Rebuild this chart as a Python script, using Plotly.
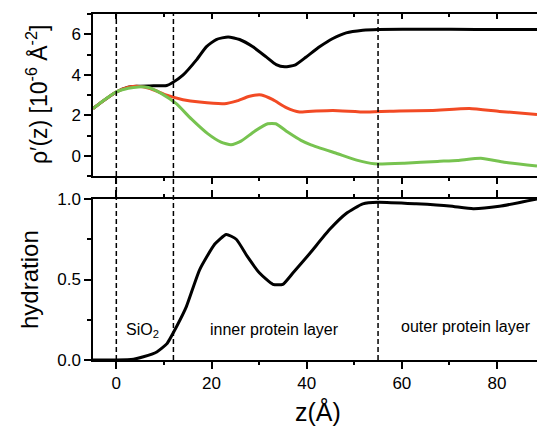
import plotly.graph_objects as go

# ---- data ----
z_black = [-4.9, -3.4, 0, 2.5, 4.3, 7.0, 10.6, 11.6, 14.0, 16.8, 18.9, 21.0, 23.5, 25.9, 28.7, 31.5, 33.6, 35.4, 37.5, 39.9, 42.7, 45.5, 48.3, 51.8, 55.0, 65.0, 75.6, 88.4]
rho_black = [2.33, 2.6, 3.15, 3.38, 3.43, 3.45, 3.47, 3.58, 3.98, 4.72, 5.38, 5.74, 5.87, 5.74, 5.38, 4.88, 4.5, 4.39, 4.47, 4.88, 5.38, 5.79, 6.07, 6.2, 6.24, 6.25, 6.24, 6.24]

z_red = [-4.9, -3.4, 0, 2.5, 4.3, 7.1, 10.6, 14.0, 17.5, 22.7, 25.2, 28.0, 30.5, 32.9, 35.7, 38.5, 42.0, 45.5, 52.5, 59.5, 66.5, 74.2, 80.5, 88.4]
rho_red = [2.33, 2.6, 3.15, 3.38, 3.43, 3.32, 2.99, 2.77, 2.65, 2.57, 2.7, 2.94, 3.0, 2.77, 2.38, 2.16, 2.21, 2.24, 2.16, 2.21, 2.24, 2.33, 2.19, 2.04]

z_green = [-4.9, -3.4, 0, 2.5, 4.6, 6.7, 9.5, 12.6, 15.7, 19.2, 22.0, 24.1, 26.2, 29.0, 31.8, 33.5, 36.0, 38.8, 40.9, 46.5, 50.7, 54.2, 60.5, 67.5, 71.7, 76.6, 81.5, 88.4]
rho_green = [2.33, 2.6, 3.15, 3.33, 3.4, 3.37, 3.07, 2.57, 1.83, 1.09, 0.67, 0.54, 0.72, 1.2, 1.58, 1.58, 1.17, 0.76, 0.54, 0.1, -0.23, -0.4, -0.37, -0.28, -0.23, -0.12, -0.32, -0.51]

z_hyd = [-4.9, 0, 3.6, 5.7, 8.5, 10.6, 12.7, 14.7, 17.5, 20.7, 23.1, 25.2, 27.6, 30.1, 32.9, 35.0, 37.1, 40.6, 44.8, 48.3, 51.8, 55.0, 63.0, 70.0, 75.0, 80.5, 88.4]
hydration = [0.0, 0.0, 0.005, 0.02, 0.05, 0.10, 0.21, 0.33, 0.56, 0.72, 0.78, 0.75, 0.64, 0.54, 0.47, 0.47, 0.54, 0.66, 0.81, 0.91, 0.97, 0.98, 0.97, 0.957, 0.94, 0.955, 1.0]

boundaries = [0, 12, 55]
region_labels = ["SiO<sub>2</sub>", "inner protein layer", "outer protein layer"]
region_x = [5.6, 33.3, 73.5]
region_y = [0.185, 0.19, 0.21]

x_ticks = [0, 20, 40, 60, 80]
top_ticks = [0, 2, 4, 6]
bot_ticks = [0.0, 0.5, 1.0]
bot_ticklabels = ["0.0", "0.5", "1.0"]

FONT = "Liberation Sans, Arial, sans-serif"
XR = [-4.9, 88.4]
SM = 0.5

fig = go.Figure()
fig.add_trace(go.Scatter(x=z_black, y=rho_black, mode="lines", line=dict(color="#000000", width=3, shape="spline", smoothing=SM), xaxis="x", yaxis="y", showlegend=False))
fig.add_trace(go.Scatter(x=z_red, y=rho_red, mode="lines", line=dict(color="#F24A24", width=3, shape="spline", smoothing=SM), xaxis="x", yaxis="y", showlegend=False))
fig.add_trace(go.Scatter(x=z_green, y=rho_green, mode="lines", line=dict(color="#77C350", width=3, shape="spline", smoothing=SM), xaxis="x", yaxis="y", showlegend=False))
fig.add_trace(go.Scatter(x=z_hyd, y=hydration, mode="lines", line=dict(color="#000000", width=3, shape="spline", smoothing=SM), xaxis="x3", yaxis="y3", showlegend=False))
# dummy trace for the top mirror axis of top panel
fig.add_trace(go.Scatter(x=[None], y=[None], xaxis="x2", yaxis="y", showlegend=False, hoverinfo="skip"))

common_x = dict(range=XR, showgrid=False, zeroline=False, showline=True, linecolor="black", linewidth=1.5,
                tickcolor="black", tickwidth=1.5, tickvals=x_ticks)
minor_x = dict(dtick=10, tick0=0, ticklen=3, tickcolor="black", tickwidth=1.5, showgrid=False)

top_dom = [(360 - 176) / 346, 1.0]
bot_dom = [0.0, (360 - 199) / 346]

fig.update_layout(
    width=537, height=427,
    margin=dict(l=93, r=0, t=14, b=67),
    paper_bgcolor="white", plot_bgcolor="white",
    font=dict(family=FONT, size=17, color="black"),
    xaxis=dict(**common_x, anchor="y", ticks="outside", ticklen=6, showticklabels=False,
               minor=dict(**minor_x, ticks="outside")),
    xaxis2=dict(**common_x, anchor="y", overlaying="x", side="top", ticks="inside", ticklen=5,
                showticklabels=False, minor=dict(**minor_x, ticks="inside")),
    xaxis3=dict(**common_x, anchor="y3", ticks="outside", ticklen=7, mirror="ticks",
                showticklabels=True, tickfont=dict(size=17, family=FONT),
                minor=dict(**minor_x, ticks="outside")),
    yaxis=dict(domain=top_dom, range=[-1, 7], showgrid=False, zeroline=False, showline=True,
               linecolor="black", linewidth=1.5, ticks="outside", ticklen=7, tickwidth=1.5,
               tickcolor="black", tickvals=top_ticks, tickfont=dict(size=17, family=FONT),
               minor=dict(dtick=1, tick0=-1, ticks="outside", ticklen=4, tickcolor="black", tickwidth=1.5, showgrid=False),
               anchor="x"),
    yaxis3=dict(domain=bot_dom, range=[0, 1], showgrid=False, zeroline=False, showline=True,
                linecolor="black", linewidth=1.5, ticks="outside", ticklen=7, tickwidth=1.5,
                tickcolor="black", tickvals=bot_ticks, ticktext=bot_ticklabels,
                tickfont=dict(size=17, family=FONT),
                minor=dict(dtick=0.25, tick0=0, ticks="outside", ticklen=4, tickcolor="black", tickwidth=1.5, showgrid=False),
                anchor="x3"),
)

# dashed boundaries spanning both panels
for b in boundaries:
    fig.add_shape(type="line", xref="x", yref="paper", x0=b, x1=b, y0=0, y1=1,
                  line=dict(color="black", width=1.5, dash="5px,3px"), layer="above")

# region labels
for lab, xx, yy in zip(region_labels, region_x, region_y):
    fig.add_annotation(x=xx, y=yy, xref="x3", yref="y3", text=lab, showarrow=False,
                       font=dict(size=16, family=FONT, color="black"))

# axis titles as annotations
fig.add_annotation(x=(37 - 93) / 444, y=(360 - 95) / 346, xref="paper", yref="paper",
                   text="ρ′(z) [10<sup>-6</sup> Å<sup>-2</sup>]", textangle=-90, showarrow=False,
                   font=dict(size=23, family=FONT, color="black"), xanchor="center", yanchor="middle")
fig.add_annotation(x=(29 - 93) / 444, y=(360 - 280) / 346, xref="paper", yref="paper",
                   text="hydration", textangle=-90, showarrow=False,
                   font=dict(size=24, family=FONT, color="black"), xanchor="center", yanchor="middle")
fig.add_annotation(x=(318 - 93) / 444, y=(360 - 411) / 346, xref="paper", yref="paper",
                   text="z(Å)", showarrow=False,
                   font=dict(size=25, family=FONT, color="black"), xanchor="center", yanchor="middle")

fig.write_html("out.html")
